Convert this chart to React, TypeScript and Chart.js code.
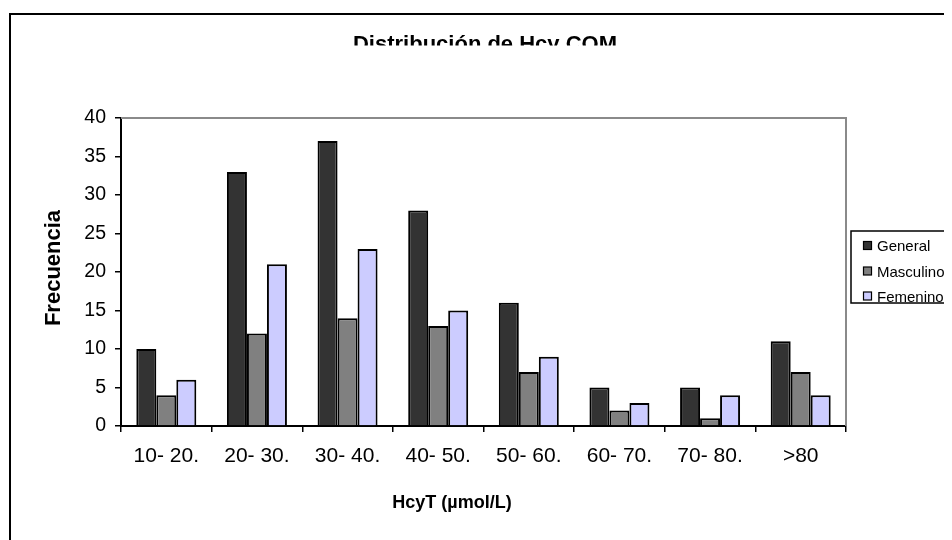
import React, { useEffect, useRef } from "react";
import { Chart, registerables } from "chart.js";

Chart.register(...registerables);

const categories = ["10- 20.", "20- 30.", "30- 40.", "40- 50.", "50- 60.", "60- 70.", "70- 80.", ">80"];
const generalValues = [10, 33, 37, 28, 16, 5, 5, 11];
const masculinoValues = [4, 12, 14, 13, 7, 2, 1, 7];
const femeninoValues = [6, 21, 23, 15, 9, 3, 4, 4];
const yTicks = { min: 0, max: 40, step: 5 };

const chartTitle = "Distribución de Hcy COM";
const xTitle = "HcyT (µmol/L)";
const yTitle = "Frecuencia";

const FONT = "'Liberation Sans', Arial, sans-serif";

const decorPlugin = {
  id: "decor",
  beforeDatasetsDraw(chart: any) {
    const { ctx, chartArea } = chart;
    ctx.save();
    ctx.strokeStyle = "#8a8a8a";
    ctx.lineWidth = 2;
    ctx.beginPath();
    ctx.moveTo(chartArea.left, chartArea.top);
    ctx.lineTo(chartArea.right, chartArea.top);
    ctx.lineTo(chartArea.right, chartArea.bottom);
    ctx.stroke();
    ctx.restore();
  },
  afterDraw(chart: any) {
    const { ctx, chartArea } = chart;
    ctx.save();
    // clipped main title
    ctx.save();
    ctx.beginPath();
    ctx.rect(0, 0, chart.width, 37.5);
    ctx.clip();
    ctx.fillStyle = "#000";
    ctx.font = `bold 22px ${FONT}`;
    ctx.textAlign = "center";
    ctx.textBaseline = "alphabetic";
    ctx.fillText(chartTitle, 477, 43);
    ctx.restore();

    // x title
    ctx.fillStyle = "#000";
    ctx.font = `bold 18px ${FONT}`;
    ctx.textAlign = "center";
    ctx.textBaseline = "alphabetic";
    ctx.fillText(xTitle, 444, 500);

    // y title
    ctx.save();
    ctx.translate(46, (chartArea.top + chartArea.bottom) / 2 - 4);
    ctx.rotate(-Math.PI / 2);
    ctx.font = `bold 22px ${FONT}`;
    ctx.textAlign = "center";
    ctx.textBaseline = "middle";
    ctx.fillText(yTitle, 0, 0);
    ctx.restore();

    // legend
    const lx = 843;
    const ly = 223;
    ctx.fillStyle = "#fff";
    ctx.fillRect(lx, ly, 200, 72);
    ctx.strokeStyle = "#000";
    ctx.lineWidth = 1.5;
    ctx.strokeRect(lx, ly, 200, 72);
    const rows = [238, 263.5, 288.5];
    chart.data.datasets.forEach((ds: any, i: number) => {
      const cy = rows[i];
      ctx.fillStyle = ds.backgroundColor;
      ctx.fillRect(855.5, cy - 4.5, 8, 8);
      ctx.strokeStyle = "#000";
      ctx.lineWidth = 1.2;
      ctx.strokeRect(855.5, cy - 4.5, 8, 8);
      ctx.fillStyle = "#000";
      ctx.font = `15px ${FONT}`;
      ctx.textAlign = "left";
      ctx.textBaseline = "middle";
      ctx.fillText(ds.label, 869, cy + 1);
    });
    ctx.restore();
  },
};

export default function App() {
  const ref = useRef<HTMLCanvasElement | null>(null);

  useEffect(() => {
    if (!ref.current) return;
    const chart = new Chart(ref.current, {
      type: "bar",
      data: {
        labels: categories,
        datasets: [
          { label: "General", data: generalValues, backgroundColor: "#333333", borderColor: "#000", borderWidth: 2 },
          { label: "Masculino", data: masculinoValues, backgroundColor: "#808080", borderColor: "#000", borderWidth: 2 },
          { label: "Femenino", data: femeninoValues, backgroundColor: "#ccccff", borderColor: "#000", borderWidth: 2 },
        ],
      },
      options: {
        responsive: false,
        animation: false,
        devicePixelRatio: 1,
        layout: { padding: { top: 110, right: 106, left: 0, bottom: 0 } },
        datasets: { bar: { categoryPercentage: 0.662, barPercentage: 1 } },
        plugins: { legend: { display: false }, title: { display: false }, tooltip: { enabled: false } },
        scales: {
          x: {
            grid: { drawOnChartArea: false, offset: true, tickLength: 6, color: "#000", lineWidth: 1.5 },
            border: { color: "#000", width: 2 },
            ticks: { color: "#000", font: { family: FONT, size: 21 }, padding: 12, maxRotation: 0, autoSkip: false },
            afterFit(scale: any) {
              scale.height = 114;
            },
          },
          y: {
            min: yTicks.min,
            max: yTicks.max,
            grid: { drawOnChartArea: false, tickLength: 6, color: "#000", lineWidth: 1.5 },
            border: { color: "#000", width: 2 },
            ticks: { stepSize: yTicks.step, color: "#000", font: { family: FONT, size: 19.5 }, padding: 9 },
            afterFit(scale: any) {
              scale.width = 113;
            },
          },
        },
      },
      plugins: [decorPlugin],
    });
    return () => chart.destroy();
  }, []);

  return (
    <div style={{ position: "relative", width: 944, height: 532, overflow: "hidden", background: "#fff" }}>
      <div
        style={{
          position: "absolute",
          left: 1,
          top: 5,
          width: 1100,
          height: 700,
          border: "2px solid #000",
          boxSizing: "border-box",
        }}
      />
      <canvas ref={ref} width={944} height={532} style={{ position: "absolute", left: 0, top: 0 }} />
    </div>
  );
}
